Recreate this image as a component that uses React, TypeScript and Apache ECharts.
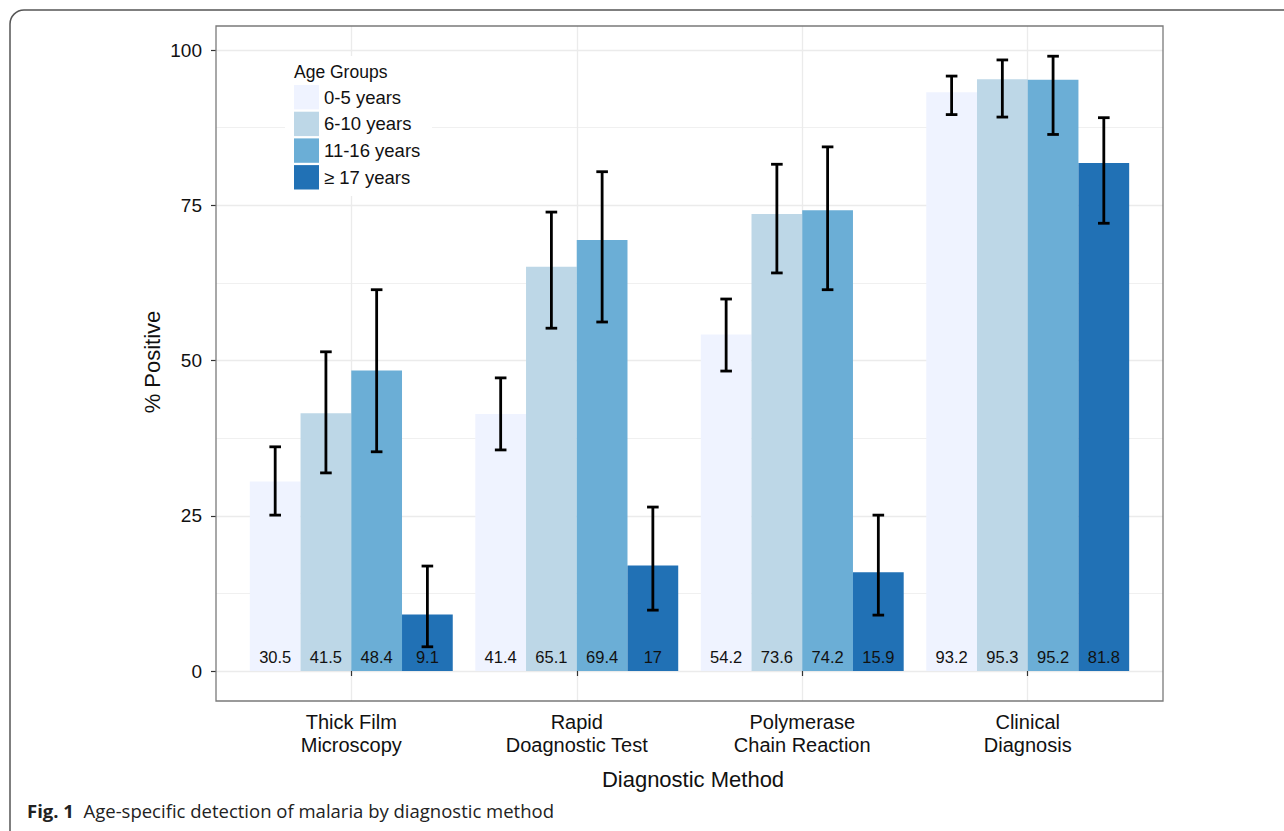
import React, { useEffect, useRef } from "react";
import * as echarts from "echarts";

const categories = [
  "Thick Film\nMicroscopy",
  "Rapid\nDoagnostic Test",
  "Polymerase\nChain Reaction",
  "Clinical\nDiagnosis",
];
const ageGroups = ["0-5 years", "6-10 years", "11-16 years", "≥ 17 years"];
const colors = ["#EFF3FF", "#BDD7E7", "#6BAED6", "#2171B5"];

const values0to5 = [30.5, 41.4, 54.2, 93.2];
const values6to10 = [41.5, 65.1, 73.6, 95.3];
const values11to16 = [48.4, 69.4, 74.2, 95.2];
const values17plus = [9.1, 17, 15.9, 81.8];

const lower0to5 = [25.1, 35.6, 48.3, 89.6];
const upper0to5 = [36.1, 47.2, 59.9, 95.8];
const lower6to10 = [31.9, 55.2, 64.1, 89.2];
const upper6to10 = [51.4, 73.9, 81.6, 98.4];
const lower11to16 = [35.3, 56.2, 61.4, 86.4];
const upper11to16 = [61.4, 80.4, 84.4, 99.0];
const lower17plus = [3.9, 9.8, 9.0, 72.1];
const upper17plus = [16.9, 26.4, 25.1, 89.1];

const yTicks = [0, 25, 50, 75, 100];

const FONT = "'Liberation Sans', Arial, sans-serif";
const TEXT = "#111";

export default function App() {
  const ref = useRef<HTMLDivElement>(null);

  useEffect(() => {
    if (!ref.current) return;
    const chart = echarts.init(ref.current, null, { renderer: "svg" });

    // layout (pixels)
    const PL = 216, PT = 26, PR = 1163, PB = 701;
    const Y0 = 671, Y100 = 50;
    const pxPerUnit = (Y0 - Y100) / 100;
    const step = (PR - PL) / 4.2;
    const yMinB = -(PB - Y0) / pxPerUnit;
    const yMaxB = 100 + (Y100 - PT) / pxPerUnit;

    const values = [values0to5, values6to10, values11to16, values17plus];
    const lowers = [lower0to5, lower6to10, lower11to16, lower17plus];
    const uppers = [upper0to5, upper6to10, upper11to16, upper17plus];

    const barSeries = ageGroups.map((name, k) => ({
      type: "bar",
      name,
      xAxisIndex: 1,
      yAxisIndex: 1,
      data: values[k],
      barWidth: "22.5%",
      barGap: "0%",
      z: 2,
      itemStyle: { color: colors[k] },
      label: {
        show: true,
        position: "insideBottom",
        distance: 6,
        fontSize: 16.5,
        fontFamily: FONT,
        color: TEXT,
      },
    }));

    const errSeries = ageGroups.map((name, k) => ({
      type: "custom",
      name: "err " + name,
      xAxisIndex: 1,
      yAxisIndex: 1,
      z: 5,
      silent: true,
      encode: { x: 0, y: [1, 2] },
      data: categories.map((_, i) => [i, lowers[k][i], uppers[k][i]]),
      renderItem: (params: any, api: any) => {
        const cat = api.value(0);
        const lo = api.value(1);
        const hi = api.value(2);
        const band = api.size([1, 0])[0];
        const cx = api.coord([cat, 0])[0] + (k - 1.5) * band * 0.225;
        const yLo = api.coord([cat, lo])[1];
        const yHi = api.coord([cat, hi])[1];
        const hw = 5.8;
        const st = { stroke: "#000", lineWidth: 2.8 };
        return {
          type: "group",
          children: [
            { type: "line", shape: { x1: cx, y1: yLo, x2: cx, y2: yHi }, style: st },
            { type: "line", shape: { x1: cx - hw, y1: yLo, x2: cx + hw, y2: yLo }, style: st },
            { type: "line", shape: { x1: cx - hw, y1: yHi, x2: cx + hw, y2: yHi }, style: st },
          ],
        };
      },
    }));

    const txt = (text: string, x: number, y: number, size: number, extra: any = {}) => ({
      type: "text",
      x,
      y,
      z: 10,
      ...extra,
      style: {
        text,
        fontSize: size,
        fontFamily: FONT,
        fill: TEXT,
        align: "center",
        verticalAlign: "middle",
        textAlign: "center",
        textVerticalAlign: "middle",
        ...(extra.style || {}),
      },
    });

    chart.setOption({
      animation: false,
      backgroundColor: "#fff",
      grid: [
        { left: PL, top: Y100, width: PR - PL, height: Y0 - Y100, containLabel: false },
        { left: PL + 0.1 * step, top: PT, width: 4 * step, height: PB - PT, containLabel: false },
        { left: PL + 0.6 * step, top: PT, width: 3 * step, height: PB - PT, containLabel: false },
      ],
      xAxis: [
        { gridIndex: 0, type: "value", min: 0, max: 1, show: false },
        {
          gridIndex: 1,
          type: "category",
          data: categories,
          boundaryGap: true,
          axisLine: { show: false },
          axisTick: { show: true, alignWithLabel: true, length: 5, lineStyle: { color: "#333", width: 1.2 } },
          axisLabel: { fontSize: 20, lineHeight: 23, fontFamily: FONT, color: TEXT, margin: 9 },
          splitLine: { show: false },
        },
        {
          gridIndex: 2,
          type: "value",
          min: 1,
          max: 4,
          interval: 1,
          axisLine: { show: false },
          axisTick: { show: false },
          axisLabel: { show: false },
          splitLine: { show: true, lineStyle: { color: "#ebebeb", width: 1.3 } },
        },
      ],
      yAxis: [
        {
          gridIndex: 0,
          type: "value",
          min: yTicks[0],
          max: yTicks[yTicks.length - 1],
          interval: 25,
          axisLine: { show: false },
          axisTick: { show: true, length: 5, lineStyle: { color: "#333", width: 1.2 } },
          axisLabel: { fontSize: 19, fontFamily: FONT, color: TEXT, margin: 14 },
          splitLine: { show: true, lineStyle: { color: "#ebebeb", width: 1.3 } },
          minorTick: { show: false, splitNumber: 2 },
          minorSplitLine: { show: true, lineStyle: { color: "#f0f0f0", width: 1 } },
        },
        { gridIndex: 1, type: "value", min: yMinB, max: yMaxB, show: false },
        { gridIndex: 2, type: "value", min: 0, max: 1, show: false },
      ],
      legend: {
        data: ageGroups,
        orient: "vertical",
        left: 294,
        top: 85,
        padding: 0,
        itemWidth: 25,
        itemHeight: 24.4,
        itemGap: 2.3,
        icon: "rect",
        selectedMode: false,
        textStyle: { fontSize: 18.5, fontFamily: FONT, color: TEXT },
        z: 6,
      },
      graphic: [
        { type: "rect", z: 1, silent: true, shape: { x: 285, y: 56, width: 147, height: 140 }, style: { fill: "#fff" } },
        { type: "rect", z: 10, silent: true, shape: { x: PL, y: PT, width: PR - PL, height: PB - PT }, style: { fill: "none", stroke: "#7a7a7a", lineWidth: 1.3 } },
        { type: "rect", z: 10, silent: true, shape: { x: 10, y: 10, width: 1500, height: 1000, r: 14 }, style: { fill: "none", stroke: "#555", lineWidth: 1.5 } },
        txt("Age Groups", 294, 72, 17.5, { style: { align: "left", textAlign: "left" } }),
        txt("% Positive", 152, 362, 22, { rotation: Math.PI / 2 }),
        txt("Diagnostic Method", 693, 779, 22),
        {
          type: "text",
          x: 27,
          y: 810,
          z: 10,
          style: {
            text: "{b|Fig. 1}  Age-specific detection of malaria by diagnostic method",
            fontSize: 18.5,
            fontFamily: "'Open Sans', 'Noto Sans', sans-serif",
            fill: "#222",
            align: "left",
            verticalAlign: "middle",
            textAlign: "left",
            textVerticalAlign: "middle",
            rich: { b: { fontWeight: "bold", fontSize: 18.5, fontFamily: "'Open Sans', 'Noto Sans', sans-serif", fill: "#222" } },
          },
        },
      ],
      series: [...barSeries, ...errSeries],
    });

    return () => chart.dispose();
  }, []);

  return (
    <div
      ref={ref}
      style={{ position: "absolute", left: 0, top: 0, width: 1284, height: 831, background: "#fff" }}
    />
  );
}
